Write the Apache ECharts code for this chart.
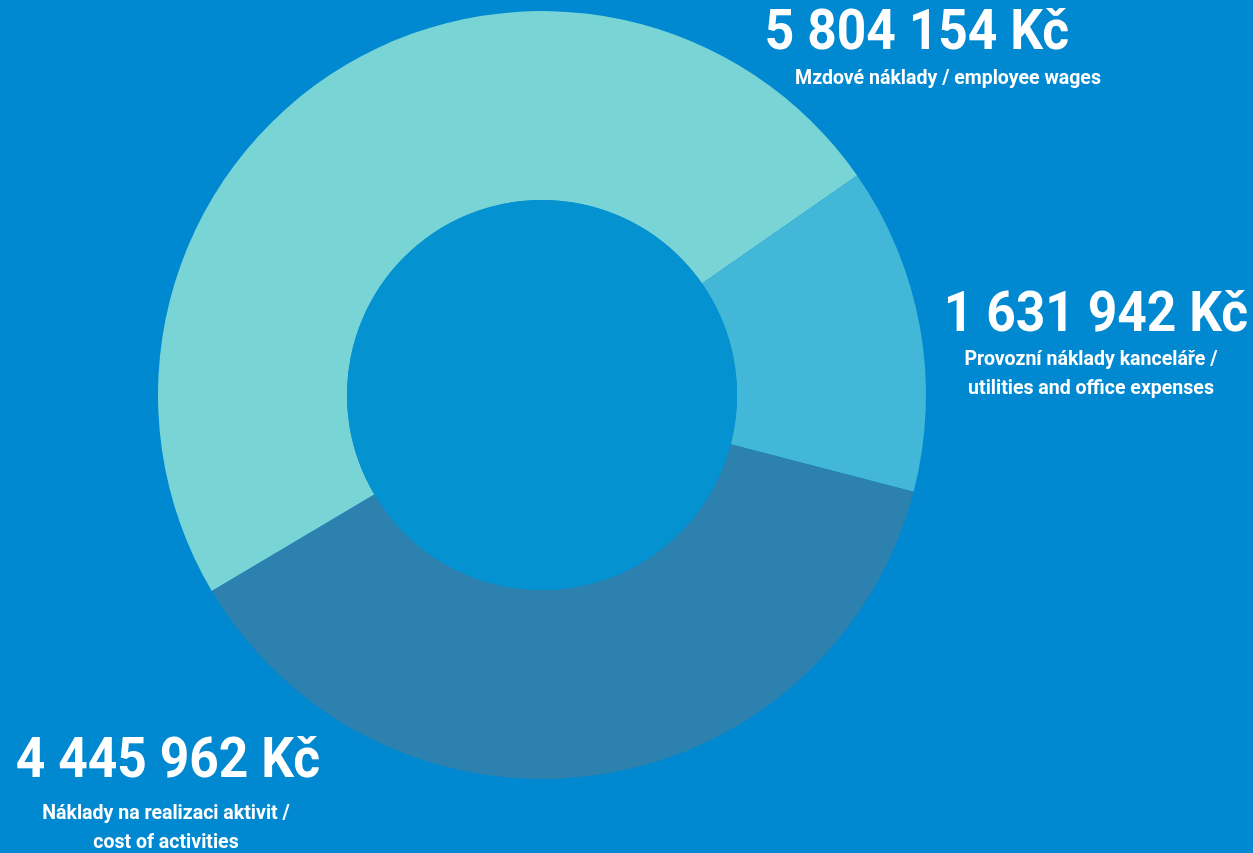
<!DOCTYPE html>
<html>
<head>
<meta charset="utf-8">
<script src="https://cdn.jsdelivr.net/npm/echarts@6/dist/echarts.min.js"></script>
<style>
  html, body { margin: 0; padding: 0; background: #0088d0; }
  #chart { width: 1253px; height: 853px; }
</style>
</head>
<body>
<div id="chart"></div>
<script>
// values in Kč
const categories = ['Mzdové náklady / employee wages', 'Provozní náklady kanceláře /\nutilities and office expenses', 'Náklady na realizaci aktivit /\ncost of activities']
const amounts = [5804154, 1631942, 4445962]
const amountLabels = ['5 804 154 Kč', '1 631 942 Kč', '4 445 962 Kč']

const font = 'Roboto'
const sliceColors = ['#79d4d6', '#42b7d7', '#2c81ae']
// label placement: centre x / middle y of the amount, then of the caption's first line
const labelSpots = [
  { x: 917, y: 35, sx: 948, sy: 79 },
  { x: 1096, y: 317, sx: 1091, sy: 360 },
  { x: 168, y: 763, sx: 166, sy: 814 }
]

const chart = echarts.init(document.getElementById('chart'))

let texts = []
amountLabels.forEach((t, i) => {
  const s = labelSpots[i]
  texts.push({
    type: 'text', x: s.x, y: s.y, scaleX: 0.92, silent: true,
    style: { text: t, fill: '#fff', fontFamily: font, fontWeight: 'bold', fontSize: 56, textAlign: 'center', textVerticalAlign: 'middle' }
  })
  categories[i].split('\n').forEach((line, j) => {
    texts.push({
      type: 'text', x: s.sx, y: s.sy + j * 28.5, scaleX: 0.93, silent: true,
      style: { text: line, fill: '#fff', fontFamily: font, fontWeight: 'bold', fontSize: 21, textAlign: 'center', textVerticalAlign: 'middle' }
    })
  })
})

chart.setOption({
  backgroundColor: '#0088d0',
  animation: false,
  graphic: texts,
  series: [
    {
      type: 'pie',
      center: [542, 395],
      radius: [195, 384],
      startAngle: 210.7,
      clockwise: true,
      silent: true,
      label: { show: false },
      labelLine: { show: false },
      data: amounts.map((v, i) => ({
        value: v,
        name: categories[i],
        itemStyle: { color: sliceColors[i] }
      }))
    },
    {
      // lighter disc in the middle
      type: 'pie',
      center: [542, 395],
      radius: [0, 195],
      silent: true,
      label: { show: false },
      labelLine: { show: false },
      itemStyle: { color: '#0592d1' },
      data: [{ value: 1, name: '' }]
    }
  ]
})
</script>
</body>
</html>
